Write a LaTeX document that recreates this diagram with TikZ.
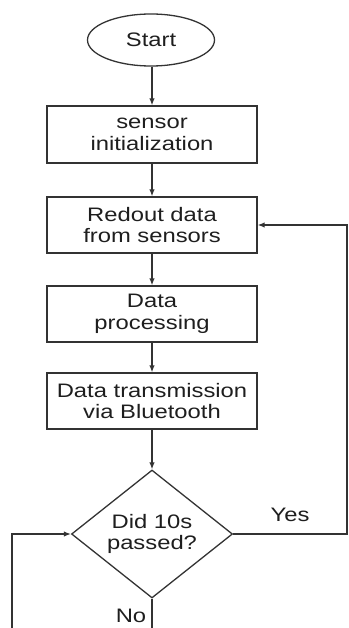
\documentclass[tikz,border=0pt]{standalone}
\usepackage{fontspec}
\setmainfont[FakeStretch=1.22]{Liberation Sans}
\usetikzlibrary{shapes.geometric,arrows.meta}
\definecolor{linegray}{HTML}{333333}
\definecolor{textgray}{HTML}{1E1E1E}
\begin{document}
\begin{tikzpicture}[x=1pt,y=-1pt,
  every node/.style={font=\fontsize{19.5}{21.5}\selectfont, text=textgray},
  stepbox/.style={draw=linegray, line width=1.3pt, rectangle, minimum width=210pt,
    minimum height=56pt, align=center, inner sep=0pt},
  terminal/.style={draw=linegray, line width=1.3pt, ellipse, minimum width=127pt,
    minimum height=52pt, inner sep=0pt},
  decision/.style={draw=linegray, line width=1.3pt, diamond, aspect=1.26,
    minimum width=161pt, minimum height=128pt, align=center, inner sep=0pt},
  conn/.style={draw=linegray, line width=1.3pt, -{Latex[length=7pt,width=5.5pt]}},
  plain/.style={draw=linegray, line width=1.3pt}]
  \useasboundingbox (0,0) rectangle (348,628);

  % flow steps
  \node[terminal] (start) at (151,40) {Start};
  \node[stepbox, minimum height=57pt] (init) at (152,134.5) {sensor\\initialization};
  \node[stepbox] (read) at (152,225) {Redout data\\from sensors};
  \node[stepbox] (proc) at (152,314) {Data\\processing};
  \node[stepbox] (send) at (152,401) {Data transmission\\via Bluetooth};
  \node[decision] (wait) at (152,534) {Did 10s\\passed?};

  % branch labels
  \node (yes) at (290,515) {Yes};
  \node (no) at (131,616) {No};

  % loop corners and free ends at the lower edge
  \coordinate (rc) at (347,534);
  \coordinate (lb) at (12,628);
  \coordinate (nb) at (152,628);

  % main flow
  \draw[conn] (start.south -| init.north) -- (init);
  \draw[conn] (init) -- (read);
  \draw[conn] (read) -- (proc);
  \draw[conn] (proc) -- (send);
  \draw[conn] (send) -- (wait);

  % yes: back to reading the sensors
  \draw[conn] (wait.east) -- (rc) |- (read.east);
  % no: wait loop
  \draw[plain] (wait.south) -- (nb);
  \draw[conn] (lb) |- (wait.west);
\end{tikzpicture}
\end{document}
